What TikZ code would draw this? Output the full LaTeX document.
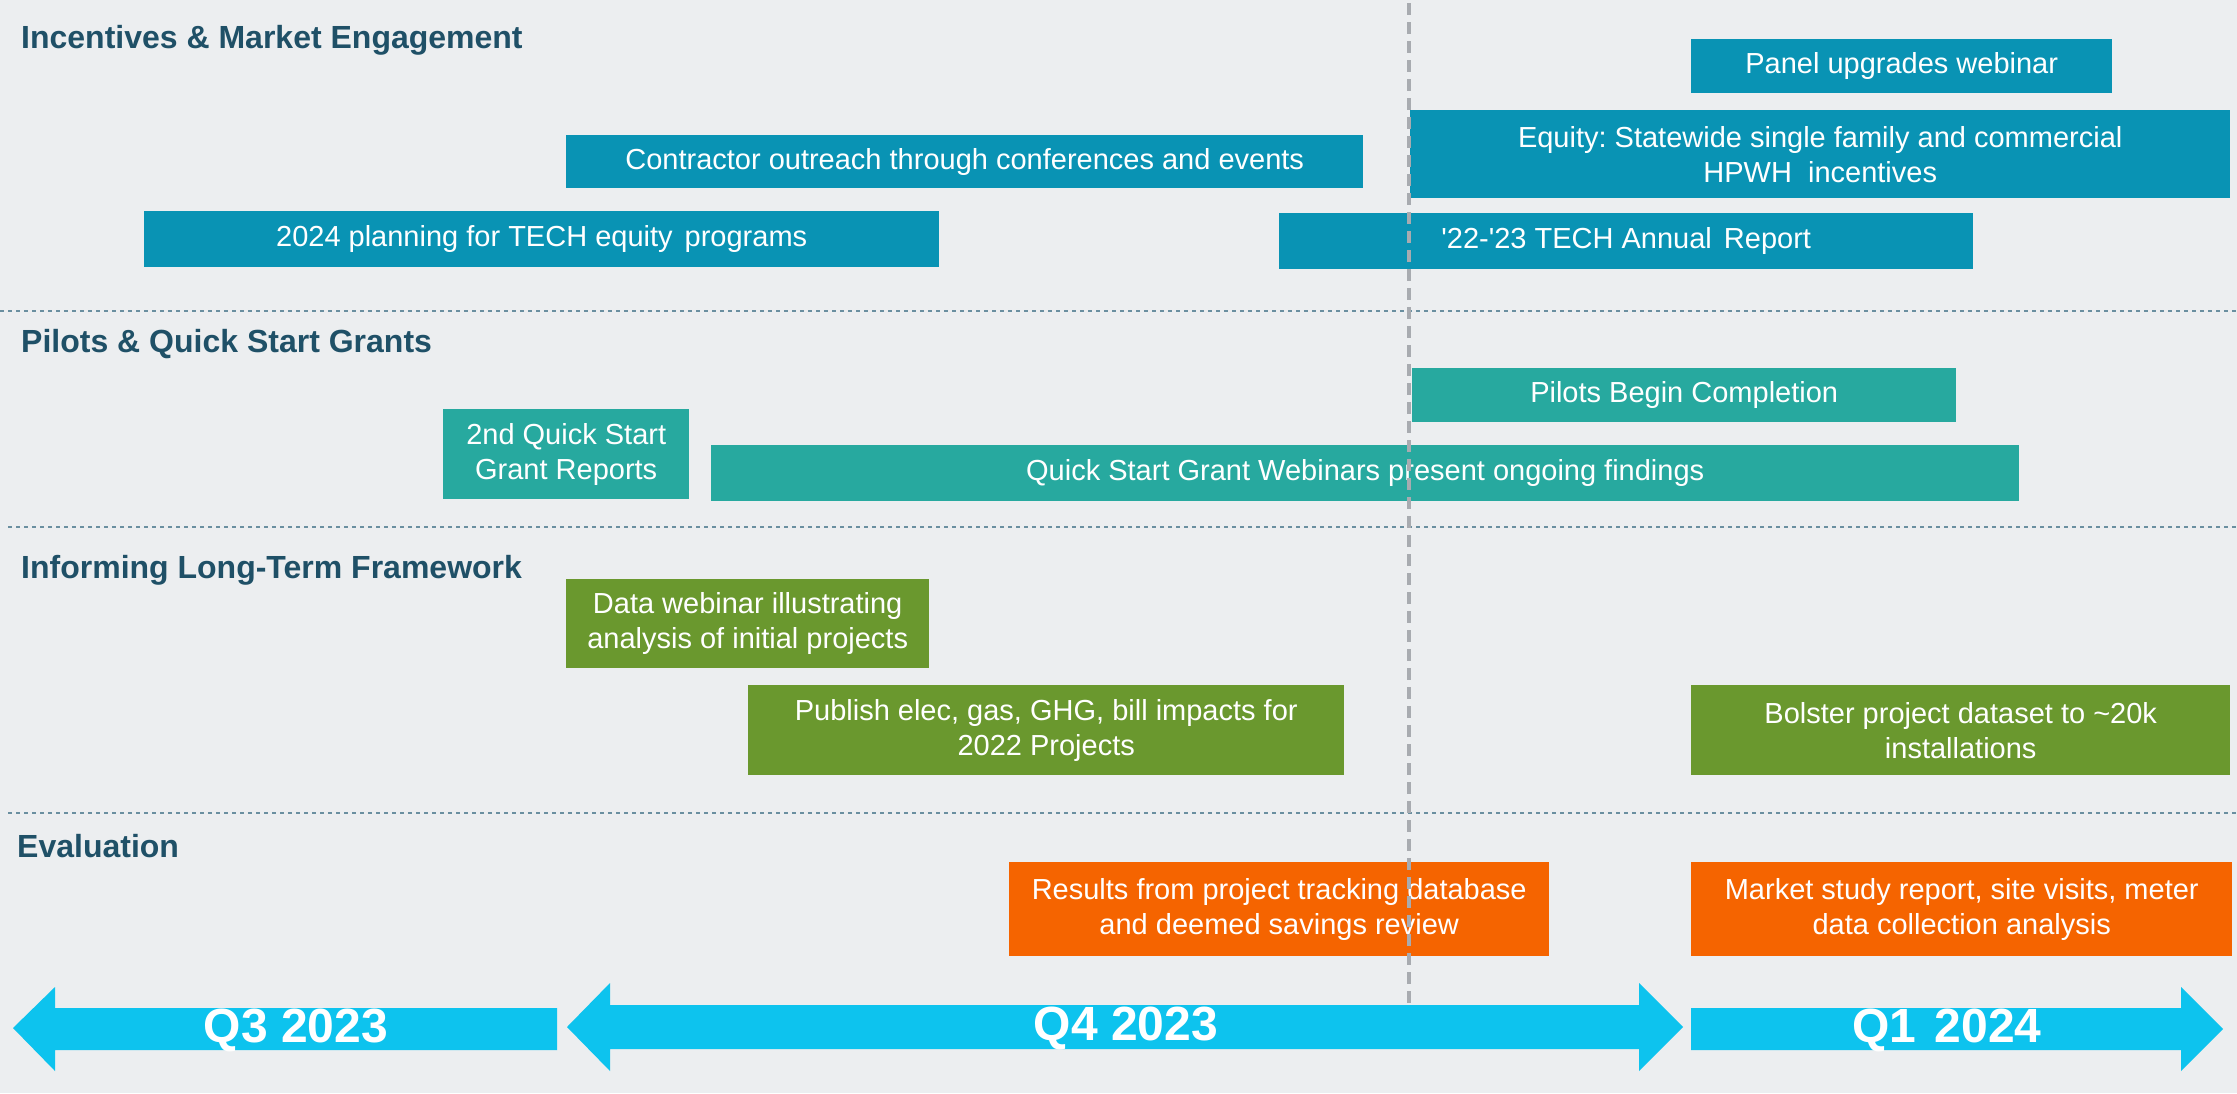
\documentclass[tikz,border=0pt]{standalone}
\usepackage{fontspec}
\setmainfont{Liberation Sans}
\frenchspacing
\definecolor{bg}{HTML}{ECEEF0}
\definecolor{headc}{HTML}{1F5067}
\definecolor{sepc}{HTML}{6A8FA0}
\definecolor{incc}{HTML}{0993B4}
\definecolor{pilc}{HTML}{27A99F}
\definecolor{infc}{HTML}{6A982E}
\definecolor{evac}{HTML}{F56400}
\definecolor{qarr}{HTML}{0DC3EE}
\definecolor{nowc}{HTML}{A8ABB0}
\begin{document}
\begin{tikzpicture}[x=1pt,y=-1pt,
  heading/.style={anchor=base west,inner sep=0pt,text=headc,
    font=\fontsize{32}{38}\selectfont\bfseries},
  bar/.style={anchor=north west,inner sep=0pt,text=white,align=center,
    font=\fontsize{29}{35}\selectfont},
  sepline/.style={draw=sepc,line width=2pt,dash pattern=on 4pt off 4pt},
  qlabel/.style={inner sep=0pt,text=white,font=\fontsize{48}{56}\selectfont\bfseries}]
\useasboundingbox (0,0) rectangle (2237,1093);
\fill[bg] (0,0) rectangle (2237,1093);

% lane separators
\draw[sepline] (0,311) -- (2237,311);
\draw[sepline] (8,527) -- (2237,527);
\draw[sepline] (8,813) -- (2237,813);

% lane headings
\node[heading] (hinc) at (21,48) {Incentives \& Market Engagement};
\node[heading] (hpil) at (21,352) {Pilots \& Quick Start Grants};
\node[heading] (hinf) at (21,578) {Informing Long-Term Framework};
\node[heading] (heva) at (17,857) {Evaluation};

% Incentives & Market Engagement
\node[bar,fill=incc,minimum width=421,minimum height=54] (panel) at (1691,39) {Panel upgrades webinar};
\node[bar,fill=incc,minimum width=820,minimum height=88] (equity) at (1410,110) {Equity: Statewide single family and commercial\\HPWH\ \ incentives};
\node[bar,fill=incc,minimum width=797,minimum height=53] (contract) at (566,135) {Contractor outreach through conferences and events};
\node[bar,fill=incc,minimum width=795,minimum height=56] (plan) at (144,211) {2024 planning for TECH equity\hspace{4pt} programs};
\node[bar,fill=incc,minimum width=694,minimum height=56] (annual) at (1279,213) {\textquotesingle22-\textquotesingle23 TECH Annual\hspace{4pt} Report};

% Pilots & Quick Start Grants
\node[bar,fill=pilc,minimum width=544,minimum height=54] (pilots) at (1412,368) {Pilots Begin Completion};
\node[bar,fill=pilc,minimum width=246,minimum height=90] (qsreport) at (443,409) {2nd Quick Start\\Grant Reports};
\node[bar,fill=pilc,minimum width=1308,minimum height=56] (qsweb) at (711,445) {Quick Start Grant Webinars present ongoing findings};

% Informing Long-Term Framework
\node[bar,fill=infc,minimum width=363,minimum height=89] (dataweb) at (566,579) {Data webinar illustrating\\analysis of initial projects};
\node[bar,fill=infc,minimum width=596,minimum height=90] (publish) at (748,685) {Publish elec, gas, GHG, bill impacts for\\2022 Projects};
\node[bar,fill=infc,minimum width=539,minimum height=90] (bolster) at (1691,685) {Bolster project dataset to \textasciitilde20k\\installations};

% Evaluation
\node[bar,fill=evac,minimum width=540,minimum height=94] (results) at (1009,862) {Results from project tracking database\\and deemed savings review};
\node[bar,fill=evac,minimum width=541,minimum height=94] (market) at (1691,862) {Market study report, site visits, meter\\data collection analysis};

% current-date marker
\coordinate (nowtop) at (1409,3);
\coordinate (nowbot) at (1409,1003);
\draw[nowc,line width=4pt,dash pattern=on 12pt off 7pt] (nowtop) -- (nowbot);

% quarter arrows
\fill[qarr] (13,1028) -- (55,987) -- (55,1008) -- (557,1008) -- (557,1050)
  -- (55,1050) -- (55,1071) -- cycle;
\fill[qarr] (567,1027) -- (610,983) -- (610,1005) -- (1639,1005) -- (1639,983)
  -- (1683,1027) -- (1639,1071) -- (1639,1049) -- (610,1049) -- (610,1071) -- cycle;
\fill[qarr] (1691,1008) -- (2181,1008) -- (2181,987) -- (2223,1029)
  -- (2181,1071) -- (2181,1050) -- (1691,1050) -- cycle;
\node[qlabel] (q3) at (296,1030) {Q3 2023};
\node[qlabel] (q4) at (1126,1028) {Q4 2023};
\node[qlabel] (q1) at (1947,1030) {Q1\hspace{18pt}2024};
\end{tikzpicture}
\end{document}
